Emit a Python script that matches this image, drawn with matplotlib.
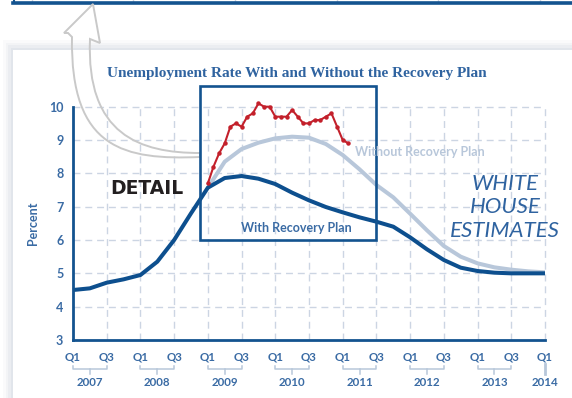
import matplotlib
matplotlib.use("Agg")
import matplotlib.pyplot as plt
from matplotlib.patches import Rectangle, PathPatch
from matplotlib.path import Path
from matplotlib.lines import Line2D

# ---------------- data ----------------
years = ['2007', '2008', '2009', '2010', '2011', '2012', '2013', '2014']
quarter_labels = ['Q1', 'Q3'] * 7 + ['Q1']
# quarterly, 2007Q1 .. 2014Q1
with_plan = [4.50, 4.55, 4.72, 4.82,
             4.95, 5.35, 6.00, 6.80,
             7.57, 7.86, 7.92, 7.84,
             7.68, 7.42, 7.19, 6.99,
             6.83, 6.68, 6.55, 6.40,
             6.08, 5.72, 5.40, 5.17,
             5.07, 5.02, 5.00, 5.00,
             5.00]
# quarterly, 2009Q1 .. 2014Q1
without_plan = [7.57, 8.35, 8.73, 8.92,
                9.05, 9.10, 9.07, 8.88,
                8.55, 8.12, 7.65, 7.28,
                6.79, 6.29, 5.82, 5.50,
                5.30, 5.18, 5.11, 5.06,
                5.03]
# monthly actual, Jan 2009 .. Feb 2011
actual = [7.7, 8.2, 8.6, 8.9, 9.4, 9.5, 9.4, 9.7, 9.8, 10.1, 10.0, 10.0,
          9.7, 9.7, 9.7, 9.9, 9.7, 9.5, 9.5, 9.6, 9.6, 9.7, 9.8, 9.4,
          9.0, 8.9]
yticks = [3, 4, 5, 6, 7, 8, 9, 10]

# ---------------- style ----------------
W, H = 572, 398
BLUE = '#0d4f8e'
SPINE = '#13538f'
TXT = '#3a6ba4'
TITLE = '#2f63a0'
GRAYL = '#b8c7da'
GRID = '#ccd5e3'
RED = '#c3202b'

fig = plt.figure(figsize=(W / 100, H / 100), dpi=100)
fig.patch.set_facecolor('white')


def P(x, y):
    """pixel (from top-left) -> figure fraction"""
    return (x / W, 1 - y / H)


# panel shadow + panel
for i, a in enumerate([0.05, 0.07, 0.09, 0.12]):
    d = 10 - i * 2.5
    x0, y0 = P(13 - d, 50 - d)
    fig.patches.append(Rectangle((x0, 0), 1 - x0 + 0.01, y0, transform=fig.transFigure,
                                 facecolor='#9fb0c0', alpha=a, edgecolor='none', zorder=0))
x0, y0 = P(13, 50)
fig.patches.append(Rectangle((x0, 0), 1 - x0 + 0.01, y0, transform=fig.transFigure,
                             facecolor='white', edgecolor='none', zorder=0.5))

# top panel remnant
for gx in [32, 133, 235, 337, 438, 540]:
    fig.lines.append(Line2D([P(gx, 0)[0]] * 2, [1, P(0, 2)[1]], transform=fig.transFigure,
                            color=GRID, lw=1.0))
fig.lines.append(Line2D([P(13, 0)[0], 1.0], [P(0, 2.5)[1]] * 2, transform=fig.transFigure,
                        color=SPINE, lw=2.6))
fig.lines.append(Line2D([P(14, 0)[0]] * 2, [1, P(0, 2.5)[1]], transform=fig.transFigure,
                        color=SPINE, lw=1.5))

# axes
ax_l, ax_r, ax_t, ax_b = 73, 545, 106.7, 340
ax = fig.add_axes([ax_l / W, 1 - ax_b / H, (ax_r - ax_l) / W, (ax_b - ax_t) / H])
ax.set_zorder(2)
ax.set_facecolor('none')
ax.set_xlim(0, 28)
ax.set_ylim(3, 10)

# grid
for y in yticks[1:]:
    ax.plot([0, 28], [y, y], color=GRID, lw=1.0, dashes=(5, 3.5), zorder=1, clip_on=False)
for x in range(2, 29, 2):
    ax.plot([x, x], [3, 10], color=GRID, lw=1.0, dashes=(5, 3.5), zorder=1, clip_on=False)

xq = list(range(len(with_plan)))
xw = [8 + i for i in range(len(without_plan))]
xa = [8 + i / 3 for i in range(len(actual))]
ax.plot(xw, without_plan, color=GRAYL, lw=2.9, solid_capstyle='butt', zorder=3)
ax.plot(xq, with_plan, color=BLUE, lw=2.9, solid_capstyle='butt', zorder=4, clip_on=False)
ax.plot(xa, actual, color=RED, lw=1.5, marker='o', ms=2.2, zorder=5, clip_on=False)

for s in ['top', 'right']:
    ax.spines[s].set_visible(False)
for s in ['left', 'bottom']:
    ax.spines[s].set_color(SPINE)
    ax.spines[s].set_linewidth(2.0)
    ax.spines[s].set_zorder(6)

ax.set_yticks(yticks)
ax.set_yticklabels([str(v) for v in yticks])
ax.tick_params(axis='y', length=0, pad=7, labelsize=9, labelcolor=TXT)
for t in ax.get_yticklabels():
    t.set_fontweight('bold')
    t.set_fontfamily('Lato')
ax.set_xticks(list(range(0, 29, 2)))
ax.set_xticklabels(quarter_labels)
ax.tick_params(axis='x', length=0, pad=8, labelsize=8.3, labelcolor=TXT)
for t in ax.get_xticklabels():
    t.set_fontweight('bold')
    t.set_fontfamily('Lato')

ax.set_ylabel('Percent', fontsize=9, color=TXT, fontweight='bold', family='Lato', labelpad=7)

# year brackets
tr = ax.get_xaxis_transform()
def ya(pix):
    return (ax_b - pix) / (ax_b - ax_t)
for i, yr in enumerate(years):
    x1 = i * 4
    if i < 7:
        x2 = x1 + 2
        ax.plot([x1, x1, x2, x2], [ya(365.5), ya(369), ya(369), ya(365.5)], transform=tr,
                color=GRAYL, lw=1.1, clip_on=False)
        xc = x1 + 1
        ax.plot([xc, xc], [ya(369), ya(373.5)], transform=tr, color=GRAYL, lw=1.1, clip_on=False)
    else:
        xc = x1
        ax.plot([xc, xc], [ya(364), ya(374)], transform=tr, color=GRAYL, lw=2.0, clip_on=False)
    ax.text(xc, ya(382.5), yr, transform=tr, ha='center', va='center', fontsize=8.3,
            color=TXT, fontweight='bold', family='Lato')

# title
fig.text(*P(297, 73), 'Unemployment Rate With and Without the Recovery Plan',
         ha='center', va='center', fontsize=11, color=TITLE, fontweight='bold',
         family='Liberation Serif')

# detail box
bx0, by0 = P(200, 240)
bx1, by1 = P(376, 86)
fig.patches.append(Rectangle((bx0, by0), bx1 - bx0, by1 - by0, transform=fig.transFigure,
                             facecolor='none', edgecolor=SPINE, lw=1.9, zorder=10))

fig.text(*P(147, 188), 'DETAIL', ha='center', va='center', fontsize=13.5, color='#231f20',
         fontweight='heavy', family='DejaVu Sans', zorder=11)
fig.text(*P(296, 228), 'With Recovery Plan', ha='center', va='center', fontsize=9,
         color=TXT, fontweight='bold', family='Lato', zorder=11)
fig.text(*P(420, 152), 'Without Recovery Plan', ha='center', va='center', fontsize=9,
         color=GRAYL, fontweight='bold', family='Lato', zorder=11)
for txt, yy in [('WHITE', 184.5), ('HOUSE', 207.5), ('ESTIMATES', 230.5)]:
    fig.text(*P(505, yy), txt, ha='center', va='center', fontsize=16, color=TITLE,
             style='italic', family='Lato', fontweight='normal', zorder=11)

# arrow (decoration)
pts = [(93, 4), (100, 43), (90, 39),
       (86, 135), (140, 153), (200, 153),
       (200, 157),
       (125, 160), (70, 150), (72, 37),
       (68, 33), (64, 33), (93, 4)]
codes = [Path.MOVETO, Path.LINETO, Path.LINETO,
         Path.CURVE4, Path.CURVE4, Path.CURVE4,
         Path.LINETO,
         Path.CURVE4, Path.CURVE4, Path.CURVE4,
         Path.LINETO, Path.LINETO, Path.CLOSEPOLY]
path = Path([P(x, y) for x, y in pts], codes)
fig.patches.append(PathPatch(path, transform=fig.transFigure, facecolor='none',
                             edgecolor='#c9c9c9', lw=1.4, zorder=9))

fig.savefig('out.png', dpi=100)
